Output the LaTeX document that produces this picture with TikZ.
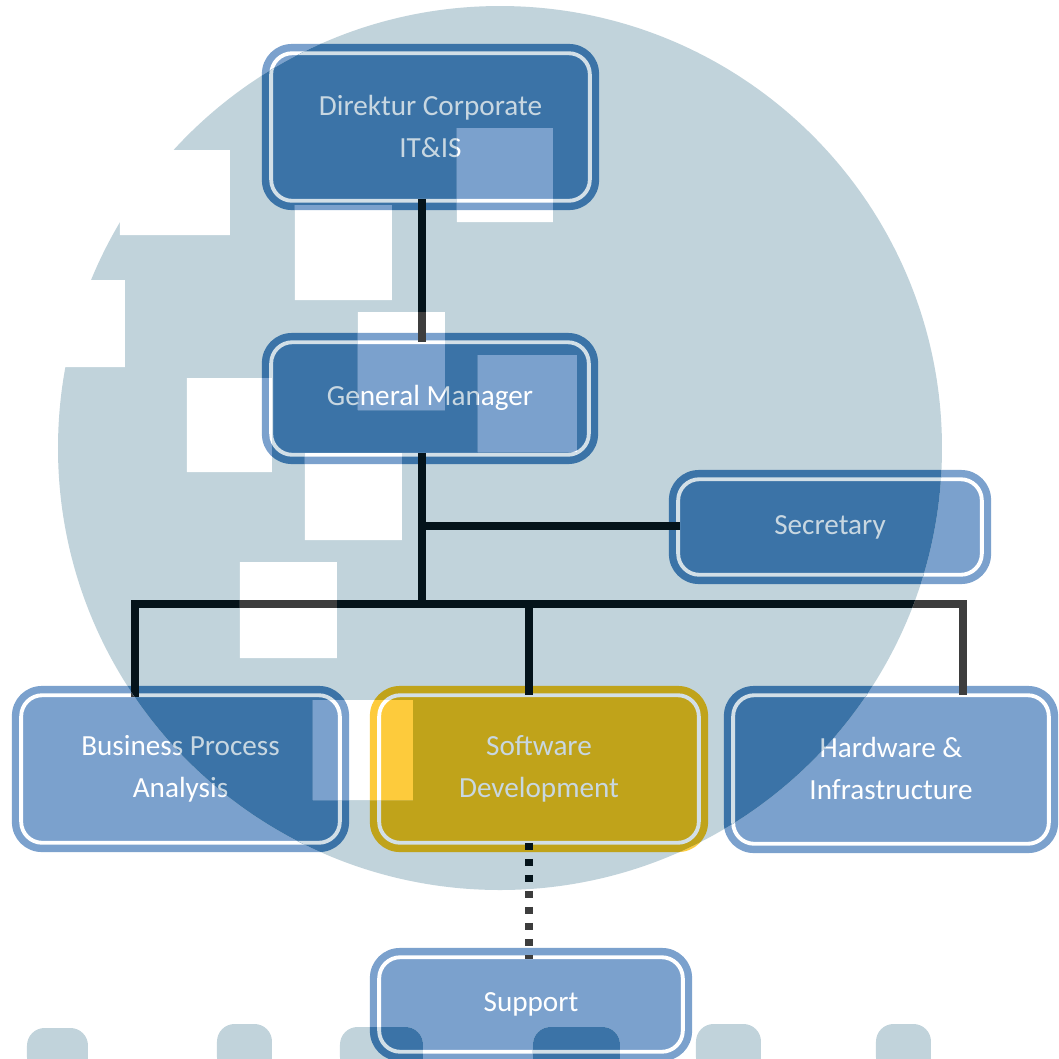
\documentclass[tikz,border=0pt]{standalone}
\usepackage{fontspec}
\setmainfont{Carlito}
\usetikzlibrary{calc}
\definecolor{wmbg}{HTML}{C1D3DB}
\definecolor{darkblue}{HTML}{3B73A7}
\definecolor{lightblue}{HTML}{7BA1CD}
\definecolor{darkyellow}{HTML}{C0A31A}
\definecolor{brightyellow}{HTML}{FDCB3C}
\definecolor{darktext}{HTML}{C8D7E1}
\definecolor{darkrim}{HTML}{D2DFE7}
\definecolor{darkconn}{HTML}{04131A}
\definecolor{lightconn}{HTML}{3D3D3D}
\tikzset{
  orgbox/.style={rounded corners=8.5pt, text=txtc, align=center, inner sep=0pt,
    font=\fontsize{8.3}{11.9}\selectfont},
  conn/.style={draw=connc, line width=2.27pt},
  dotconn/.style={conn, dash pattern=on 2.1pt off 2.45pt},
  innerline/.style={draw=rimc, line width=1.1pt, rounded corners=6pt}
}
\newcommand\setlightworld{%
  \colorlet{bgc}{white}\colorlet{boxb}{lightblue}\colorlet{boxy}{brightyellow}%
  \colorlet{txtc}{white}\colorlet{rimc}{white}\colorlet{connc}{lightconn}}
\newcommand\setdarkworld{%
  \colorlet{bgc}{wmbg}\colorlet{boxb}{darkblue}\colorlet{boxy}{darkyellow}%
  \colorlet{txtc}{darktext}\colorlet{rimc}{darkrim}\colorlet{connc}{darkconn}}
\newcommand\orgnode[7]{%
  \node[orgbox, fill=#6, minimum width=#4cm, minimum height=#5cm] (#1) at (#2,#3) {#7};
  \draw[innerline] ([xshift=2.835pt,yshift=-2.835pt]#1.north west) rectangle ([xshift=-2.835pt,yshift=2.835pt]#1.south east);}
\newcommand\orgchart{%
  \fill[bgc] (-5,-5) rectangle (1065,1065);
  \orgnode{dir}{430.5}{127}{3.37}{1.66}{boxb}{\raisebox{0.5pt}{Direktur Corporate}\\\raisebox{0.5pt}{IT\&IS}}
  \orgnode{gm}{430}{398.5}{3.36}{1.31}{boxb}{\raisebox{1.7pt}{General Manager}}
  \orgnode{sec}{830}{527}{3.22}{1.14}{boxb}{\raisebox{-0.8pt}{Secretary}}
  \orgnode{bpa}{180.5}{769}{3.37}{1.66}{boxb}{Business Process\\Analysis}
  \orgnode{sd}{539}{769}{3.38}{1.66}{boxy}{Software\\Development}
  \orgnode{hw}{891}{769.5}{3.34}{1.67}{boxb}{\raisebox{0.5pt}{Hardware \&}\\\raisebox{0.5pt}{Infrastructure}}
  \orgnode{sup}{531}{1004.5}{3.22}{1.13}{boxb}{\raisebox{-0.9pt}{Support}}
  \coordinate (trunk) at (422,604);
  \coordinate (secj) at (422,526);
  \coordinate (bl) at (135,604);
  \coordinate (br) at (963,604);
  \coordinate (sdj) at (529,604);
  \draw[conn] ($(dir.south -| trunk)+(0,-12)$) -- ($(gm.north -| trunk)+(0,10)$);
  \draw[conn] ($(gm.south -| trunk)+(0,-12)$) -- (trunk);
  \draw[conn] (secj) -- ($(sec.west |- secj)+(12,0)$);
  \draw[conn] ($(bpa.north -| bl)+(0,12)$) -- (bl) -- (br) -- ($(hw.north -| br)+(0,10)$);
  \draw[conn] (sdj) -- ($(sd.north -| sdj)+(0,10)$);
  \draw[dotconn] ($(sd.south -| sdj)+(0,-10)$) -- ($(sup.north -| sdj)+(0,12)$);
}
\begin{document}
\begin{tikzpicture}[x=0.01cm,y=-0.01cm]
\useasboundingbox (0,0) rectangle (1059,1059);
\clip (0,0) rectangle (1059,1059);
\begin{scope}
  \setlightworld
  \orgchart
\end{scope}
\begin{scope}
  \clip (500,448) circle [radius=442];
  \setdarkworld
  \orgchart
\end{scope}
\begin{scope}
  \clip (120,150) rectangle (230,235)
        (-5,280) rectangle (125,367)
        (295,205) rectangle (392,300)
        (457,128) rectangle (553,222)
        (358,312) rectangle (445,410)
        (478,355) rectangle (577,452)
        (187,378) rectangle (272,472)
        (305,453) rectangle (402,540)
        (240,562) rectangle (337,658)
        (313,700) rectangle (413,800);
  \setlightworld
  \orgchart
\end{scope}
\begin{scope}
  \clip[rounded corners=5pt]
        (27,1075) -- (27,1028) -- (88,1028) -- (88,1075) -- cycle
        (217,1075) -- (217,1024) -- (272,1024) -- (272,1075) -- cycle
        (340,1075) -- (340,1027) -- (423,1027) -- (423,1075) -- cycle
        (533,1075) -- (533,1027) -- (620,1027) -- (620,1075) -- cycle
        (696,1075) -- (696,1024) -- (761,1024) -- (761,1075) -- cycle
        (876,1075) -- (876,1024) -- (931,1024) -- (931,1075) -- cycle;
  \setdarkworld
  \orgchart
\end{scope}
\end{tikzpicture}
\end{document}
